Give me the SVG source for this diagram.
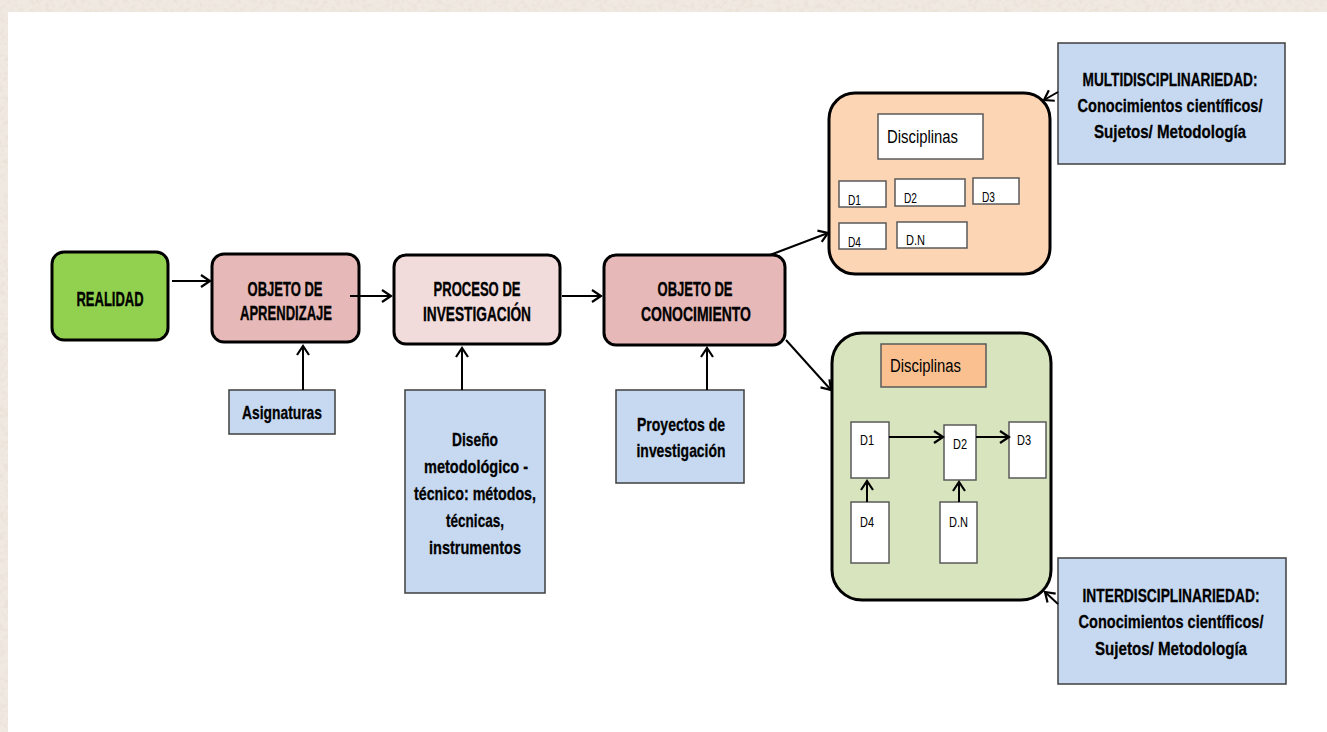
<svg xmlns="http://www.w3.org/2000/svg" width="1327" height="732" viewBox="0 0 1327 732">
  <style>
    .t { font-family: "Liberation Sans Narrow", "Liberation Sans", Arial, sans-serif; fill: #000; }
    .b { font-weight: bold; font-size: 20px; text-anchor: middle; stroke: #000; stroke-width: 0.35; }
    .n { font-weight: bold; font-size: 19px; text-anchor: middle; stroke: #000; stroke-width: 0.3; }
    .disc { font-size: 18px; }
    .d { font-size: 14px; }
    .main { stroke: #000; stroke-width: 3; }
    .note { fill: #c6d9f1; stroke: #3f3f3f; stroke-width: 1.5; }
    .inner { fill: #fff; stroke: #5a5a5a; stroke-width: 1.5; }
    .conn { stroke: #000; stroke-width: 2; fill: none; marker-end: url(#arrow); }
  </style>
  <defs>
    <marker id="arrow" markerUnits="userSpaceOnUse" viewBox="-2 -2 14 16" markerWidth="14" markerHeight="16" refX="9" refY="6" orient="auto">
      <path d="M0,0 L9,6 L0,12" fill="none" stroke="#000" stroke-width="2.2"/>
    </marker>
    <filter id="paper" x="0" y="0" width="100%" height="100%">
      <feTurbulence type="fractalNoise" baseFrequency="0.22" numOctaves="3" seed="7"/>
      <feColorMatrix type="matrix" values="0 0 0 0 0.78  0 0 0 0 0.72  0 0 0 0 0.64  1.6 0 0 0 -0.72"/>
    </filter>
  </defs>

  <!-- paper border and page -->
  <rect x="0" y="0" width="1327" height="732" fill="#f0e9e1"/>
  <rect x="0" y="0" width="1327" height="732" filter="url(#paper)"/>
  <rect x="8" y="12" width="1319" height="720" fill="#fff"/>

  <!-- main flow -->
  <g id="realidad">
    <rect class="main" x="52" y="252" width="116" height="88" rx="12" fill="#92d050"/>
    <text class="t b" x="110" y="306" textLength="67" lengthAdjust="spacingAndGlyphs">REALIDAD</text>
  </g>
  <g id="objeto-aprendizaje">
    <rect class="main" x="212" y="254" width="147" height="88" rx="12" fill="#e6b8b7"/>
    <text class="t b" x="285" y="296" textLength="75" lengthAdjust="spacingAndGlyphs">OBJETO DE</text>
    <text class="t b" x="286" y="320" textLength="92" lengthAdjust="spacingAndGlyphs">APRENDIZAJE</text>
  </g>
  <g id="proceso-investigacion">
    <rect class="main" x="394" y="255" width="166" height="89" rx="12" fill="#f2dcdb"/>
    <text class="t b" x="477" y="296" textLength="87" lengthAdjust="spacingAndGlyphs">PROCESO DE</text>
    <text class="t b" x="477" y="321" textLength="108" lengthAdjust="spacingAndGlyphs">INVESTIGACIÓN</text>
  </g>
  <g id="objeto-conocimiento">
    <rect class="main" x="604" y="255" width="181" height="90" rx="12" fill="#e6b8b7"/>
    <text class="t b" x="695" y="296" textLength="75" lengthAdjust="spacingAndGlyphs">OBJETO DE</text>
    <text class="t b" x="696" y="321" textLength="110" lengthAdjust="spacingAndGlyphs">CONOCIMIENTO</text>
  </g>

  <!-- supporting inputs -->
  <g id="asignaturas">
    <rect class="note" x="229" y="390" width="106" height="44"/>
    <text class="t n" x="282" y="419" textLength="80" lengthAdjust="spacingAndGlyphs">Asignaturas</text>
  </g>
  <g id="diseno">
    <rect class="note" x="405" y="390" width="140" height="203"/>
    <text class="t n" x="475" y="446" textLength="46" lengthAdjust="spacingAndGlyphs">Diseño</text>
    <text class="t n" x="476" y="473" textLength="104" lengthAdjust="spacingAndGlyphs">metodológico -</text>
    <text class="t n" x="475" y="500" textLength="122" lengthAdjust="spacingAndGlyphs">técnico: métodos,</text>
    <text class="t n" x="475" y="527" textLength="58" lengthAdjust="spacingAndGlyphs">técnicas,</text>
    <text class="t n" x="475" y="554" textLength="92" lengthAdjust="spacingAndGlyphs">instrumentos</text>
  </g>
  <g id="proyectos">
    <rect class="note" x="616" y="390" width="128" height="93"/>
    <text class="t n" x="681" y="431" textLength="88" lengthAdjust="spacingAndGlyphs">Proyectos de</text>
    <text class="t n" x="681" y="457" textLength="89" lengthAdjust="spacingAndGlyphs">investigación</text>
  </g>

  <!-- multidisciplinary block -->
  <g id="multi-disciplinas">
    <rect class="main" x="829" y="93" width="221" height="181" rx="26" fill="#fcd5b5"/>
    <rect class="inner" x="878" y="114" width="105" height="45"/>
    <text class="t disc" x="887" y="143" textLength="71" lengthAdjust="spacingAndGlyphs">Disciplinas</text>
    <rect class="inner" x="839" y="181" width="47" height="26"/>
    <text class="t d" x="848" y="205" textLength="13" lengthAdjust="spacingAndGlyphs">D1</text>
    <rect class="inner" x="895" y="179" width="70" height="27"/>
    <text class="t d" x="904" y="203" textLength="13" lengthAdjust="spacingAndGlyphs">D2</text>
    <rect class="inner" x="973" y="178" width="46" height="26"/>
    <text class="t d" x="982" y="202" textLength="13" lengthAdjust="spacingAndGlyphs">D3</text>
    <rect class="inner" x="839" y="223" width="47" height="26"/>
    <text class="t d" x="848" y="247" textLength="13" lengthAdjust="spacingAndGlyphs">D4</text>
    <rect class="inner" x="897" y="222" width="70" height="26"/>
    <text class="t d" x="906" y="245" textLength="19" lengthAdjust="spacingAndGlyphs">D.N</text>
  </g>
  <g id="multidisciplinariedad">
    <rect class="note" x="1058" y="43" width="227" height="121"/>
    <text class="t n" x="1170" y="86" textLength="175" lengthAdjust="spacingAndGlyphs">MULTIDISCIPLINARIEDAD:</text>
    <text class="t n" x="1170" y="112" textLength="185" lengthAdjust="spacingAndGlyphs">Conocimientos científicos/</text>
    <text class="t n" x="1170" y="138" textLength="152" lengthAdjust="spacingAndGlyphs">Sujetos/ Metodología</text>
  </g>

  <!-- interdisciplinary block -->
  <g id="inter-disciplinas">
    <rect class="main" x="832" y="333" width="219" height="267" rx="30" fill="#d7e4bd"/>
    <rect x="881" y="344" width="105" height="43" fill="#fac090" stroke="#5a5a5a" stroke-width="1.5"/>
    <text class="t disc" x="890" y="372" textLength="71" lengthAdjust="spacingAndGlyphs">Disciplinas</text>
    <rect class="inner" x="851" y="422" width="38" height="56"/>
    <text class="t d" x="860" y="445" textLength="14" lengthAdjust="spacingAndGlyphs">D1</text>
    <rect class="inner" x="944" y="425" width="32" height="55"/>
    <text class="t d" x="953" y="449" textLength="14" lengthAdjust="spacingAndGlyphs">D2</text>
    <rect class="inner" x="1009" y="422" width="37" height="56"/>
    <text class="t d" x="1017" y="445" textLength="14" lengthAdjust="spacingAndGlyphs">D3</text>
    <rect class="inner" x="851" y="502" width="38" height="61"/>
    <text class="t d" x="860" y="527" textLength="14" lengthAdjust="spacingAndGlyphs">D4</text>
    <rect class="inner" x="940" y="502" width="37" height="61"/>
    <text class="t d" x="949" y="527" textLength="19" lengthAdjust="spacingAndGlyphs">D.N</text>
  </g>
  <g id="interdisciplinariedad">
    <rect class="note" x="1058" y="558" width="228" height="126"/>
    <text class="t n" x="1171" y="602" textLength="177" lengthAdjust="spacingAndGlyphs">INTERDISCIPLINARIEDAD:</text>
    <text class="t n" x="1171" y="628" textLength="185" lengthAdjust="spacingAndGlyphs">Conocimientos científicos/</text>
    <text class="t n" x="1171" y="655" textLength="152" lengthAdjust="spacingAndGlyphs">Sujetos/ Metodología</text>
  </g>

  <!-- connectors (drawn last so the arrows inside the blocks stay visible) -->
  <g id="connectors">
    <line class="conn" x1="172" y1="281" x2="210" y2="281"/>
    <line class="conn" x1="350" y1="296" x2="391" y2="296"/>
    <line class="conn" x1="562" y1="296" x2="601" y2="296"/>
    <line class="conn" x1="303" y1="390" x2="303" y2="346"/>
    <line class="conn" x1="462" y1="390" x2="462" y2="348"/>
    <line class="conn" x1="707" y1="390" x2="707" y2="348"/>
    <line class="conn" x1="770" y1="255" x2="828" y2="233"/>
    <line class="conn" x1="786" y1="340" x2="831" y2="390"/>
    <line class="conn" x1="1058" y1="92" x2="1044" y2="100"/>
    <line class="conn" x1="1058" y1="604" x2="1045" y2="592"/>
    <line class="conn" x1="889" y1="437" x2="943" y2="437"/>
    <line class="conn" x1="976" y1="437" x2="1009" y2="437"/>
    <line class="conn" x1="867" y1="502" x2="867" y2="481"/>
    <line class="conn" x1="959" y1="502" x2="959" y2="482"/>
  </g>
</svg>
